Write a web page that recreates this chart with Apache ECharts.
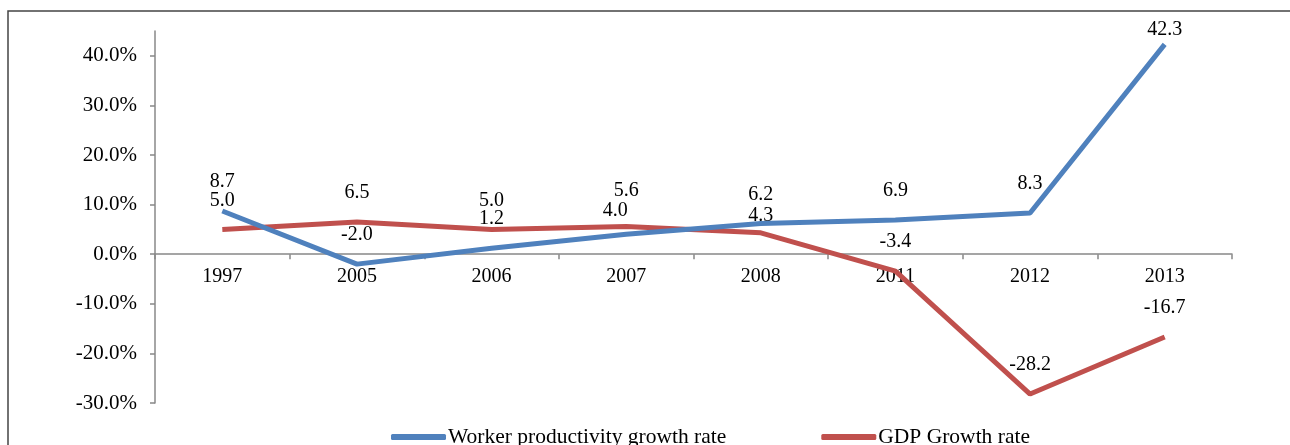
<!DOCTYPE html>
<html>
<head>
<meta charset="utf-8">
<script src="https://cdn.jsdelivr.net/npm/echarts@6/dist/echarts.min.js"></script>
<style>
html,body{margin:0;padding:0;background:#fff;}
#main{width:1290px;height:445px;}
</style>
</head>
<body>
<div id="main"></div>
<script>
var categories = ['1997','2005','2006','2007','2008','2011','2012','2013'];
var productivity = [8.7, -2.0, 1.2, 4.0, 6.2, 6.9, 8.3, 42.3];
var gdp = [5.0, 6.5, 5.0, 5.6, 4.3, -3.4, -28.2, -16.7];
var yTicks = [-30, -20, -10, 0, 10, 20, 30, 40];

// label nudges (pixels) for crowded labels, keyed by category index
var productivityLabelNudge = { 3: [-11, 5], 7: [0, 14] };
var gdpLabelNudge = { 3: [0, -7], 4: [0, 12] };

var FONT = '"Liberation Serif", "Times New Roman", serif';

var Y_MIN = -30, Y_MAX = 45;
var GRID_TOP = 31, GRID_BOTTOM = 42, H = 445;
var plotH = H - GRID_TOP - GRID_BOTTOM;
var zeroOffset = plotH * (0 - Y_MIN) / (Y_MAX - Y_MIN);

function buildData(arr, nudge) {
  return arr.map(function (v, i) {
    var item = { value: v };
    if (nudge[i]) item.label = { offset: nudge[i] };
    return item;
  });
}

var labelCfg = {
  show: true, position: 'top', distance: 19,
  fontFamily: FONT, fontSize: 20, color: '#000',
  formatter: function (p) { return Number(p.value).toFixed(1); }
};

var chart = echarts.init(document.getElementById('main'), null, { renderer: 'canvas' });
chart.setOption({
  animation: false,
  backgroundColor: '#fff',
  graphic: [{
    type: 'rect',
    shape: { x: 8, y: 11, width: 1300, height: 460 },
    style: { fill: 'none', stroke: '#444', lineWidth: 1.5 },
    z: -1
  }],
  grid: { left: 155, right: 58, top: GRID_TOP, bottom: GRID_BOTTOM, containLabel: false },
  legend: {
    top: 421,
    left: 386,
    itemWidth: 55,
    itemHeight: 6,
    itemGap: 95,
    icon: 'roundRect',
    textStyle: { fontFamily: FONT, fontSize: 21.5, color: '#000', padding: [0, 0, 0, -3] },
    data: ['Worker productivity growth rate', 'GDP Growth rate']
  },
  xAxis: {
    type: 'category',
    data: categories,
    boundaryGap: true,
    position: 'bottom',
    offset: -zeroOffset,
    axisLine: { onZero: false, lineStyle: { color: '#888', width: 1.5 } },
    axisTick: { show: true, length: 5, lineStyle: { color: '#888', width: 1.5 } },
    axisLabel: { fontFamily: FONT, fontSize: 20, color: '#000', margin: 13 },
    splitLine: { show: false }
  },
  yAxis: {
    type: 'value',
    min: Y_MIN,
    max: Y_MAX,
    interval: 10,
    axisLine: { show: true, lineStyle: { color: '#888', width: 1.5 } },
    axisTick: { show: true, length: 5, customValues: yTicks, lineStyle: { color: '#888', width: 1.5 } },
    axisLabel: {
      fontFamily: FONT, fontSize: 21, color: '#000', margin: 18,
      customValues: yTicks,
      formatter: function (v) { return v.toFixed(1) + '%'; }
    },
    splitLine: { show: false }
  },
  series: [
    {
      name: 'Worker productivity growth rate',
      type: 'line',
      data: buildData(productivity, productivityLabelNudge),
      symbol: 'circle',
      symbolSize: 0.01,
      showSymbol: true,
      lineStyle: { width: 5, color: '#4F81BD' },
      itemStyle: { color: '#4F81BD' },
      label: labelCfg,
      z: 3
    },
    {
      name: 'GDP Growth rate',
      type: 'line',
      data: buildData(gdp, gdpLabelNudge),
      symbol: 'circle',
      symbolSize: 0.01,
      showSymbol: true,
      lineStyle: { width: 5, color: '#C0504D' },
      itemStyle: { color: '#C0504D' },
      label: labelCfg,
      z: 2
    }
  ]
});
</script>
</body>
</html>
